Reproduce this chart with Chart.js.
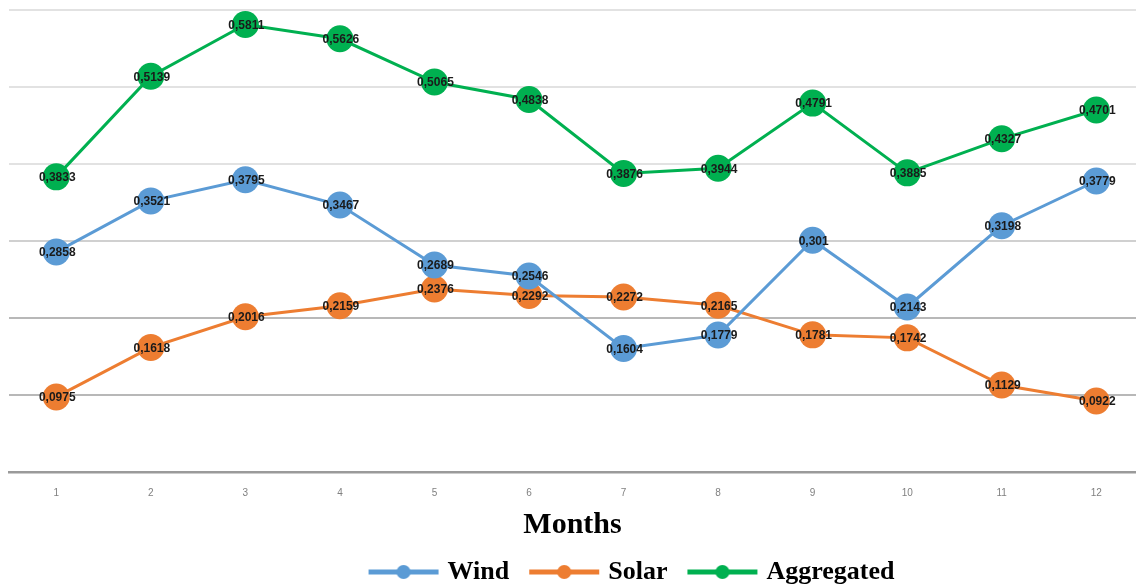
<!DOCTYPE html>
<html><head><meta charset="utf-8">
<script src="https://cdn.jsdelivr.net/npm/chart.js@4/dist/chart.umd.min.js"></script>
<style>html,body{margin:0;padding:0;background:#fff}#wrap{width:1136px;height:588px}</style>
</head><body><div id="wrap"><canvas id="c" width="1136" height="588"></canvas></div>
<script>
const months = [1,2,3,4,5,6,7,8,9,10,11,12];
const wind = [0.2858,0.3521,0.3795,0.3467,0.2689,0.2546,0.1604,0.1779,0.301,0.2143,0.3198,0.3779];
const solar = [0.0975,0.1618,0.2016,0.2159,0.2376,0.2292,0.2272,0.2165,0.1781,0.1742,0.1129,0.0922];
const aggregated = [0.3833,0.5139,0.5811,0.5626,0.5065,0.4838,0.3876,0.3944,0.4791,0.3885,0.4327,0.4701];
const yTicks = [0,0.1,0.2,0.3,0.4,0.5,0.6];
const seriesNames = ['Wind','Solar','Aggregated'];
const seriesColors = ['#5b9bd5','#ed7d31','#00b050'];
const xTitle = 'Months';

function marker(color){
  const c=document.createElement('canvas'); c.width=72; c.height=20;
  const g=c.getContext('2d');
  g.strokeStyle=color; g.lineWidth=5; g.lineCap='butt';
  g.beginPath(); g.moveTo(1,10); g.lineTo(71,10); g.stroke();
  g.fillStyle=color; g.beginPath(); g.arc(36,10,7,0,2*Math.PI); g.fill();
  return c;
}
const markers = seriesColors.map(marker);

const LEGEND_H = 36, LEGEND_CENTER = 572, LEGEND_SHIFT_X = 61, LEGEND_PAD = 24, LEGEND_FONT = 26;
const layoutPlugin = {
  id:'lay',
  beforeUpdate(chart){
    if(chart.legend && !chart.legend._fixed){
      chart.legend._fixed = true;
      chart.legend.afterFit = function(){ this.height = LEGEND_H; };
    }
  },
  afterLayout(chart){
    const lg = chart.legend; if(!lg) return;
    const top = LEGEND_CENTER - LEGEND_PAD - LEGEND_FONT/2;
    const d = top - lg.top;
    lg.top += d; lg.bottom += d;
    lg.left += LEGEND_SHIFT_X; lg.right += LEGEND_SHIFT_X;
    if(lg.legendHitBoxes) lg.legendHitBoxes.forEach(b=>{b.top+=d; b.left+=LEGEND_SHIFT_X;});
  }
};

const dataLabelPlugin = {
  id:'dl',
  afterDatasetsDraw(chart){
    const ctx=chart.ctx; ctx.save();
    ctx.font='bold 12px "Liberation Sans"'; ctx.fillStyle='#1a1a1a';
    ctx.textAlign='center'; ctx.textBaseline='middle';
    chart.data.datasets.forEach((ds,i)=>{
      const meta=chart.getDatasetMeta(i);
      meta.data.forEach((pt,j)=>{ ctx.fillText(String(ds.data[j]).replace('.',','), pt.x+1, pt.y+1); });
    });
    ctx.restore();
  }
};

const seriesData=[wind,solar,aggregated];
new Chart(document.getElementById('c'),{
  type:'line',
  data:{
    labels:months,
    datasets:seriesNames.map((n,i)=>({
      label:n, data:seriesData[i], borderColor:seriesColors[i], backgroundColor:seriesColors[i],
      pointBackgroundColor:seriesColors[i], pointBorderWidth:0, pointRadius:13.5, pointHoverRadius:13.5,
      borderWidth:3, tension:0, clip:false
    }))
  },
  options:{
    responsive:false, animation:false,
    layout:{autoPadding:false, padding:{left:9,top:10,right:0,bottom:-24}},
    plugins:{
      tooltip:{enabled:false},
      legend:{
        position:'bottom',
        labels:{
          usePointStyle:true, pointStyleWidth:62, padding:LEGEND_PAD, color:'#000',
          font:{family:'"Liberation Serif", "Times New Roman", serif', size:LEGEND_FONT, weight:'bold'},
          generateLabels(chart){
            const items=Chart.defaults.plugins.legend.labels.generateLabels(chart);
            items.forEach((it,i)=>{it.pointStyle=markers[i];});
            return items;
          }
        }
      }
    },
    scales:{
      x:{
        type:'linear', min:0.5, max:12.42,
        afterBuildTicks(axis){ axis.ticks=months.map(v=>({value:v})); },
        afterFit(axis){ axis.height = 80; },
        grid:{display:false, drawTicks:false},
        border:{display:true, color:'#9a9a9a', width:2.5},
        ticks:{padding:15, color:'#808080', font:{family:'"Liberation Sans"', size:10}, autoSkip:false, maxRotation:0},
        title:{display:true, text:xTitle, color:'#000', padding:{top:0, bottom:9},
          font:{family:'"Liberation Serif", "Times New Roman", serif', size:30, weight:'bold'}}
      },
      y:{
        min:0, max:0.6,
        afterBuildTicks(axis){ axis.ticks=yTicks.map(v=>({value:v})); },
        ticks:{display:false},
        border:{display:false},
        grid:{drawTicks:false, lineWidth:2,
          color(ctx){ const v=ctx.tick?ctx.tick.value:0; if(v<0.05) return '#9a9a9a'; if(v<0.25) return '#b8b8b8'; if(v<0.35) return '#d0d0d0'; return '#e2e2e2'; }}
      }
    }
  },
  plugins:[layoutPlugin, dataLabelPlugin]
});
</script></body></html>
